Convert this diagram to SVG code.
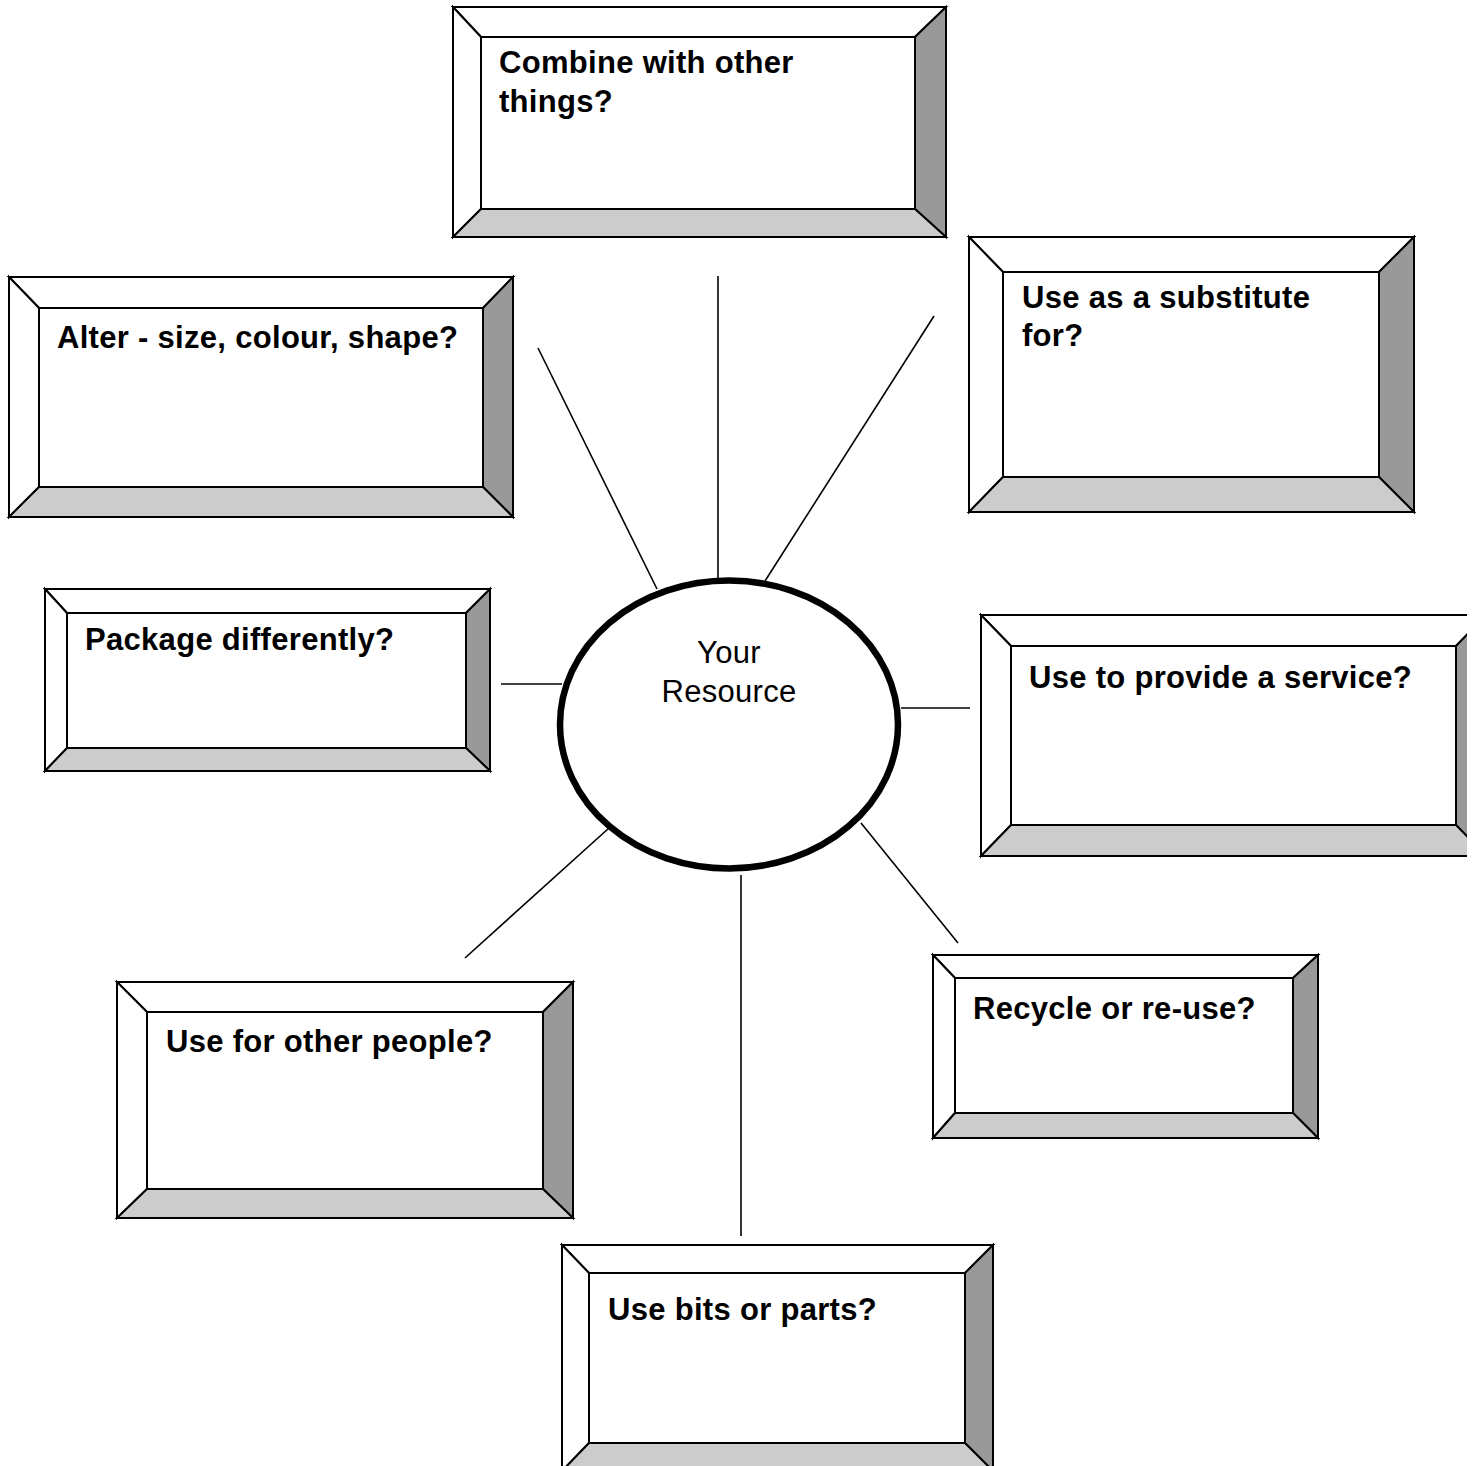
<svg xmlns="http://www.w3.org/2000/svg" width="1474" height="1466" viewBox="0 0 1474 1466">
<defs>
<style>
.bv{stroke:#000;stroke-width:2;stroke-linejoin:miter}
.w{fill:#fff}
.r{fill:#999}
.b{fill:#ccc}
.lbl{font-family:"Liberation Sans",Arial,sans-serif;font-weight:bold;font-size:31px;letter-spacing:0.3px;fill:#000}
.ctr{font-family:"Liberation Sans",Arial,sans-serif;font-size:31px;letter-spacing:0.3px;fill:#000;text-anchor:middle}
.cn{stroke:#000;stroke-width:1.6;fill:none}
</style>
<clipPath id="clipR"><rect x="0" y="0" width="1467" height="1466"/></clipPath>
</defs>
<rect width="1474" height="1466" fill="#fff"/>

<g id="connectors">
<line class="cn" x1="718" y1="276" x2="718" y2="578"/>
<line class="cn" x1="538" y1="348" x2="657" y2="589"/>
<line class="cn" x1="934" y1="316" x2="765" y2="581"/>
<line class="cn" x1="501" y1="684" x2="562" y2="684"/>
<line class="cn" x1="901" y1="708" x2="970" y2="708"/>
<line class="cn" x1="609" y1="828" x2="465" y2="958"/>
<line class="cn" x1="741" y1="875" x2="741" y2="1236"/>
<line class="cn" x1="861" y1="823" x2="958" y2="943"/>
</g>

<g id="node-center">
<ellipse cx="729" cy="724.5" rx="169" ry="144" fill="#fff" stroke="#000" stroke-width="6.5"/>
<text class="ctr" x="729" y="663">Your</text>
<text class="ctr" x="729" y="702">Resource</text>
</g>

<g id="node-combine">
<polygon class="bv w" points="453,7 946,7 915,37 481,37"/>
<polygon class="bv w" points="453,7 481,37 481,209 453,237"/>
<polygon class="bv r" points="946,7 946,237 915,209 915,37"/>
<polygon class="bv b" points="453,237 481,209 915,209 946,237"/>
<rect class="bv w" x="481" y="37" width="434" height="172"/>
<text class="lbl" x="499" y="73">Combine with other</text>
<text class="lbl" x="499" y="112">things?</text>
</g>

<g id="node-substitute">
<polygon class="bv w" points="969,237 1414,237 1379,272 1003,272"/>
<polygon class="bv w" points="969,237 1003,272 1003,477 969,512"/>
<polygon class="bv r" points="1414,237 1414,512 1379,477 1379,272"/>
<polygon class="bv b" points="969,512 1003,477 1379,477 1414,512"/>
<rect class="bv w" x="1003" y="272" width="376" height="205"/>
<text class="lbl" x="1022" y="308">Use as a substitute</text>
<text class="lbl" x="1022" y="346">for?</text>
</g>

<g id="node-alter">
<polygon class="bv w" points="9,277 513,277 483,308 39,308"/>
<polygon class="bv w" points="9,277 39,308 39,487 9,517"/>
<polygon class="bv r" points="513,277 513,517 483,487 483,308"/>
<polygon class="bv b" points="9,517 39,487 483,487 513,517"/>
<rect class="bv w" x="39" y="308" width="444" height="179"/>
<text class="lbl" x="57" y="348">Alter - size, colour, shape?</text>
</g>

<g id="node-package">
<polygon class="bv w" points="45,589 490,589 466,613 67,613"/>
<polygon class="bv w" points="45,589 67,613 67,748 45,771"/>
<polygon class="bv r" points="490,589 490,771 466,748 466,613"/>
<polygon class="bv b" points="45,771 67,748 466,748 490,771"/>
<rect class="bv w" x="67" y="613" width="399" height="135"/>
<text class="lbl" x="85" y="650">Package differently?</text>
</g>

<g id="node-service" clip-path="url(#clipR)">
<polygon class="bv w" points="981,615 1486,615 1456,646 1011,646"/>
<polygon class="bv w" points="981,615 1011,646 1011,825 981,856"/>
<polygon class="bv r" points="1486,615 1486,856 1456,825 1456,646"/>
<polygon class="bv b" points="981,856 1011,825 1456,825 1486,856"/>
<rect class="bv w" x="1011" y="646" width="445" height="179"/>
<text class="lbl" x="1029" y="688">Use to provide a service?</text>
</g>

<g id="node-recycle">
<polygon class="bv w" points="933,955 1318,955 1293,978 955,978"/>
<polygon class="bv w" points="933,955 955,978 955,1113 933,1138"/>
<polygon class="bv r" points="1318,955 1318,1138 1293,1113 1293,978"/>
<polygon class="bv b" points="933,1138 955,1113 1293,1113 1318,1138"/>
<rect class="bv w" x="955" y="978" width="338" height="135"/>
<text class="lbl" x="973" y="1019">Recycle or re-use?</text>
</g>

<g id="node-people">
<polygon class="bv w" points="117,982 573,982 543,1012 147,1012"/>
<polygon class="bv w" points="117,982 147,1012 147,1189 117,1218"/>
<polygon class="bv r" points="573,982 573,1218 543,1189 543,1012"/>
<polygon class="bv b" points="117,1218 147,1189 543,1189 573,1218"/>
<rect class="bv w" x="147" y="1012" width="396" height="177"/>
<text class="lbl" x="166" y="1052">Use for other people?</text>
</g>

<g id="node-bits">
<polygon class="bv w" points="562,1245 993,1245 965,1273 589,1273"/>
<polygon class="bv w" points="562,1245 589,1273 589,1443 562,1471"/>
<polygon class="bv r" points="993,1245 993,1471 965,1443 965,1273"/>
<polygon class="bv b" points="562,1471 589,1443 965,1443 993,1471"/>
<rect class="bv w" x="589" y="1273" width="376" height="170"/>
<text class="lbl" x="608" y="1320">Use bits or parts?</text>
</g>
</svg>
